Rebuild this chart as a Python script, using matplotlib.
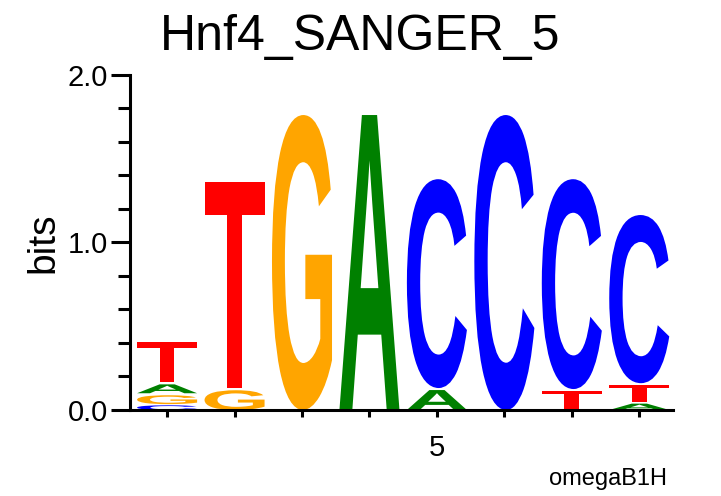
import matplotlib
matplotlib.use('Agg')
import matplotlib.pyplot as plt
from matplotlib.textpath import TextPath
from matplotlib.patches import PathPatch
from matplotlib.font_manager import FontProperties
from matplotlib.transforms import Affine2D

# letters stacked bottom -> top, heights in bits
positions = [1, 2, 3, 4, 5, 6, 7, 8]
stacks = [
    [('C', 0.035), ('G', 0.065), ('A', 0.065), ('T', 0.255)],
    [('G', 0.13), ('T', 1.243)],
    [('G', 1.773)],
    [('A', 1.773)],
    [('A', 0.131), ('C', 1.259)],
    [('C', 1.773)],
    [('T', 0.125), ('C', 1.265)],
    [('A', 0.05), ('T', 0.11), ('C', 1.016)],
]
colors = {'A': '#008000', 'C': '#0000ff', 'G': '#ffa500', 'T': '#ff0000'}

title = 'Hnf4_SANGER_5'
ylabel = 'bits'
note = 'omegaB1H'

plt.rcParams['font.family'] = ['Liberation Sans', 'DejaVu Sans']
glyph_font = FontProperties(family='Liberation Sans', weight='bold')

fig = plt.figure(figsize=(7.21, 4.96), dpi=100)
ax = fig.add_axes([0.1803, 0.1734, 0.9334 - 0.1803, 0.8488 - 0.1734])


def draw_letter(ax, ch, x, y0, h, half_w=0.445, gap=0.012):
    tp = TextPath((0, 0), ch, size=1, prop=glyph_font)
    bb = tp.get_extents()
    top = y0 + h - gap if h > 3 * gap else y0 + h * 0.8
    sx = 2 * half_w / bb.width
    sy = (top - y0) / bb.height
    tr = Affine2D().translate(-bb.x0, -bb.y0).scale(sx, sy).translate(x - half_w, y0)
    ax.add_patch(PathPatch(tr.transform_path(tp), facecolor=colors[ch],
                           edgecolor='none', lw=0))


for x, stack in zip(positions, stacks):
    y = 0.0
    for ch, h in stack:
        draw_letter(ax, ch, x, y, h)
        y += h

ax.set_xlim(0.45, 8.5)
ax.set_ylim(0, 2)
ax.spines['top'].set_visible(False)
ax.spines['right'].set_visible(False)
for s in ['left', 'bottom']:
    ax.spines[s].set_linewidth(2.2)

ax.set_xticks(positions)
ax.set_xticklabels(['' if p != 5 else '5' for p in positions], fontsize=21)
ax.set_yticks([0, 1, 2])
ax.set_yticklabels(['0.0', '1.0', '2.0'], fontsize=21)
ax.set_yticks([0.2, 0.4, 0.6, 0.8, 1.2, 1.4, 1.6, 1.8], minor=True)
ax.tick_params(axis='y', which='major', length=14, width=2.2, pad=2)
ax.tick_params(axis='y', which='minor', length=8.5, width=2.2)
ax.tick_params(axis='x', which='major', length=5, width=2.2, pad=12)
ax.set_ylabel(ylabel, fontsize=28, labelpad=4)

fig.text(0.5, 0.899, title, ha='center', va='baseline', fontsize=36)
fig.text(0.925, 0.022, note, ha='right', va='baseline', fontsize=17)

fig.savefig('out.png', dpi=100)
